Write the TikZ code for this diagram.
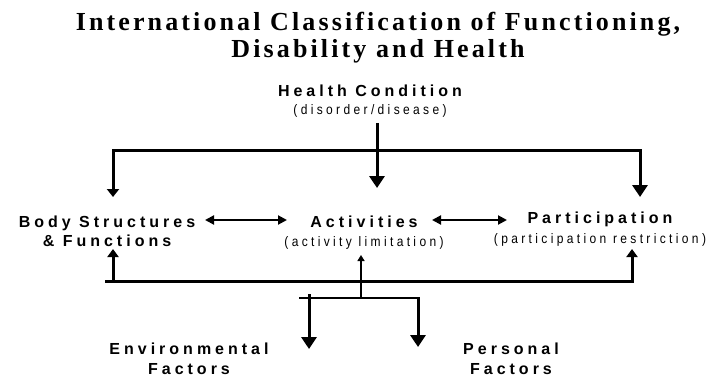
\documentclass[tikz,border=0pt]{standalone}
\usepackage{fontspec}
\usepackage{graphicx}
\setmainfont{Liberation Serif}
\newfontfamily\titlefont[LetterSpace=12]{Liberation Serif}
\newfontfamily\labelfont[LetterSpace=25]{Liberation Sans}
\newfontfamily\notefont[LetterSpace=28]{Liberation Sans}
\newcommand{\subline}[1]{{\notefont\mdseries\fontsize{12}{14}\selectfont\scalebox{1}[1.15]{#1}}}
\usetikzlibrary{arrows.meta}

\tikzset{
  icfnode/.style={align=center, inner sep=0pt, font=\labelfont\bfseries\fontsize{16}{19}\selectfont},
  heavy/.style={line width=3pt},
  light/.style={line width=2pt},
  bigtip/.style={-{Triangle[width=15pt,length=12pt]}},
  uptip/.tip={Triangle[width=11pt,length=8pt]},
  dbltip/.style={{Triangle[width=9pt,length=9pt]}-{Triangle[width=9pt,length=9pt]}}
}

\begin{document}
\begin{tikzpicture}[x=1pt, y=-1pt]
    \useasboundingbox (0,0) rectangle (709,377);

    % title
    \node[align=center, inner sep=0pt, font=\titlefont\bfseries\fontsize{26}{27}\selectfont] (title) at (378,38)
        {International Classification of Functioning,\\Disability and Health};

    % components
    \node[icfnode] (hc) at (370,101) {Health Condition\\[-1pt]\subline{(disorder/disease)}};
    \node[icfnode] (body) at (107,231) {Body Structures\\\& Functions};
    \node[icfnode] (act) at (364,233) {Activities\\[0pt]\subline{(activity limitation)}};
    \node[icfnode] (part) at (600,229) {Participation\\[1pt]\subline{(participation restriction)}};
    \node[icfnode] (env) at (189,359) {Environmental\\[1pt]Factors};
    \node[icfnode] (pers) at (511,359) {Personal\\[1pt]Factors};

    % arrow ends
    \coordinate (hcout) at (377,123);
    \coordinate (split) at (377,150);
    \coordinate (bodyin) at (113,197);
    \coordinate (actin) at (377,188);
    \coordinate (partin) at (640,197);
    \coordinate (bodyout) at (113,249);
    \coordinate (partout) at (632,249);
    \coordinate (ctxjoin) at (361,281);
    \coordinate (ctxfoot) at (361,298);
    \coordinate (actout) at (361,255);
    \coordinate (envin) at (309,349);
    \coordinate (persin) at (418,347);

    % health condition down to the three components
    \draw[heavy, bigtip] (hcout) -- (actin);
    \draw[heavy, {Triangle[width=12pt,length=8pt]}-{Triangle[width=15pt,length=12pt]}] (bodyin) |- (split) -| (partin);

    % interactions between components
    \draw[light, dbltip] (205,220) -- (287,220);
    \draw[light, dbltip] (432,220) -- (507,220);

    % contextual factors up to the components
    \draw[heavy, uptip-uptip] (bodyout) |- (ctxjoin) -| (partout);
    \draw[heavy] (bodyout |- ctxjoin) -- ++(-8,0);
    \draw[light, -{Triangle[width=7pt,length=6pt]}] (ctxfoot) -- (actout);
    \draw[light] (ctxfoot -| 299,0) -- (ctxfoot -| 420,0);
    \draw[heavy, bigtip] (309,294) -- (envin);
    \draw[heavy, bigtip] (ctxfoot -| persin) -- (persin);
\end{tikzpicture}
\end{document}
